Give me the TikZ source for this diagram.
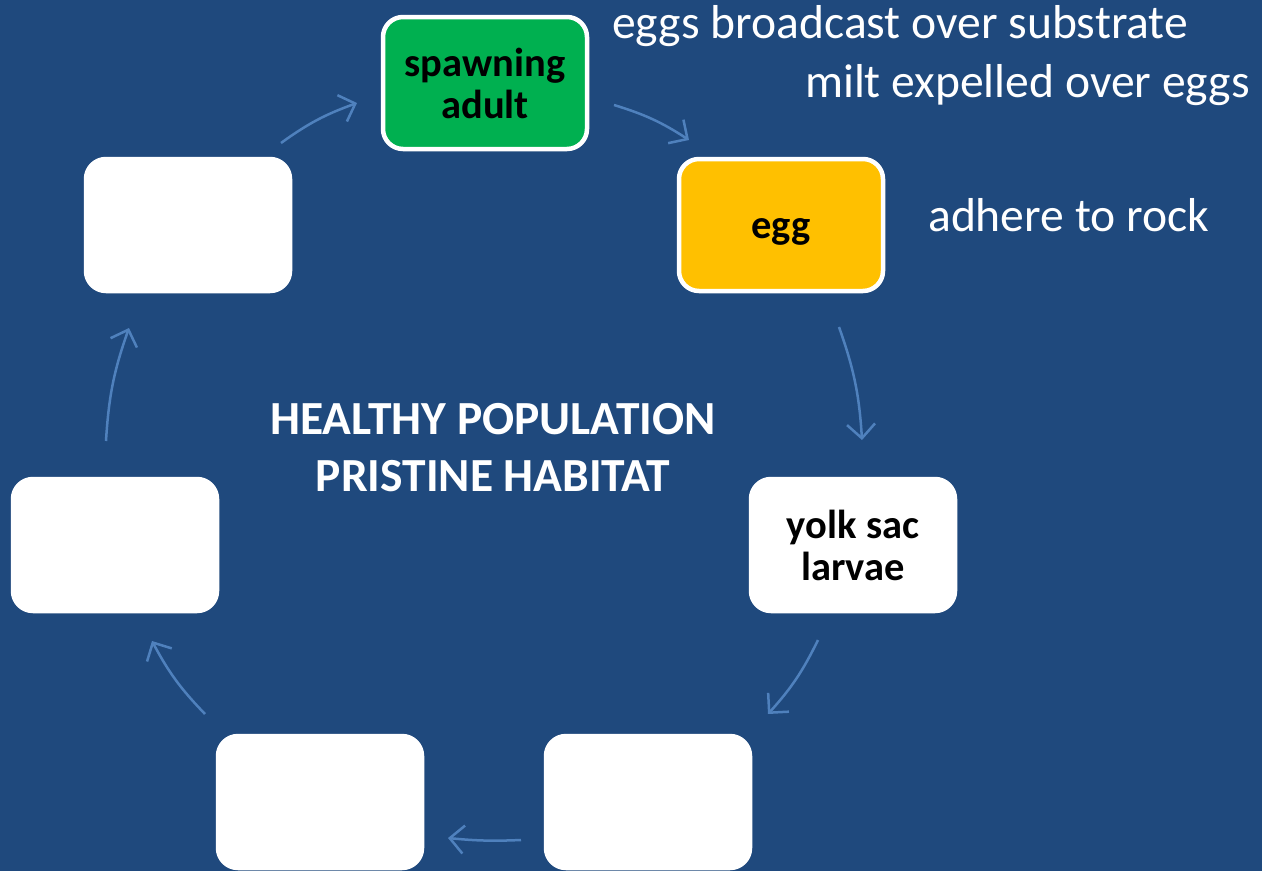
\documentclass[tikz,border=0pt]{standalone}
\usepackage{fontspec}
\setmainfont{Carlito}
\usetikzlibrary{arrows.meta}
\definecolor{bgblue}{RGB}{31,73,125}
\definecolor{arrowblue}{RGB}{79,129,189}
\definecolor{stagegreen}{RGB}{0,176,80}
\definecolor{stageamber}{RGB}{255,192,0}
\begin{document}
\begin{tikzpicture}[x=1pt,y=-1pt,
  stagebox/.style={draw=white, line width=4.5pt, rounded corners=20pt,
    minimum width=204pt, minimum height=132pt, inner sep=0pt, fill=white,
    align=center, font=\fontsize{40.5}{42}\selectfont\bfseries, text=black},
  cyclearrow/.style={draw=arrowblue, line width=2.5pt,
    -{Straight Barb[length=14pt,width=28pt,line width=2.5pt]}},
  note/.style={text=white, font=\fontsize{47.6}{57}\selectfont, inner sep=0pt}]
  % background
  \fill[bgblue] (0,0) rectangle (1262,871);
  \useasboundingbox (0,0) rectangle (1262,871);

  % life-cycle stages
  \node[stagebox, fill=stagegreen] (adult) at (485,83) {spawning\\adult};
  \node[stagebox, fill=stageamber, align=none, text height=30pt, text depth=3pt]
    (egg) at (781,225) {egg};
  \node[stagebox] (yolk) at (853,545) {yolk sac\\larvae};
  \node[stagebox] (stageBR) at (648,802) {};
  \node[stagebox] (stageBL) at (320,802) {};
  \node[stagebox] (stageLM) at (115,545) {};
  \node[stagebox] (stageTL) at (188,225) {};

  % centre title
  \node[text=white, align=center, inner sep=0pt,
    font=\fontsize{47.5}{57}\selectfont\bfseries] (title) at (493,448)
    {HEALTHY POPULATION\\PRISTINE HABITAT};

  % annotations
  \node[note, anchor=base west] (broadcast) at (612,38) {eggs broadcast over substrate};
  \node[note, anchor=base east] (milt) at (1250,97) {milt expelled over eggs};
  \node[note, anchor=base west] (adhere) at (928,231) {adhere to rock};

  % arrow end points
  \coordinate (a1s) at (281,143); \coordinate (a1e) at (357,103);
  \coordinate (a2s) at (614,105); \coordinate (a2e) at (689,140);
  \coordinate (a3s) at (839,327); \coordinate (a3e) at (862,440);
  \coordinate (a4s) at (818,640); \coordinate (a4e) at (768,714);
  \coordinate (a5s) at (521,840); \coordinate (a5e) at (448,838);
  \coordinate (a6s) at (205,714); \coordinate (a6e) at (152,641);
  \coordinate (a7s) at (106,441); \coordinate (a7e) at (129,328);

  % cycle arrows
  \draw[cyclearrow] (a1s) to[bend left=8] (a1e);
  \draw[cyclearrow] (a2s) to[bend left=8] (a2e);
  \draw[cyclearrow] (a3s) to[bend left=8] (a3e);
  \draw[cyclearrow] (a4s) to[bend left=8] (a4e);
  \draw[cyclearrow] (a5s) to[bend left=4] (a5e);
  \draw[cyclearrow] (a6s) to[bend left=8] (a6e);
  \draw[cyclearrow] (a7s) to[bend left=8] (a7e);
\end{tikzpicture}
\end{document}
